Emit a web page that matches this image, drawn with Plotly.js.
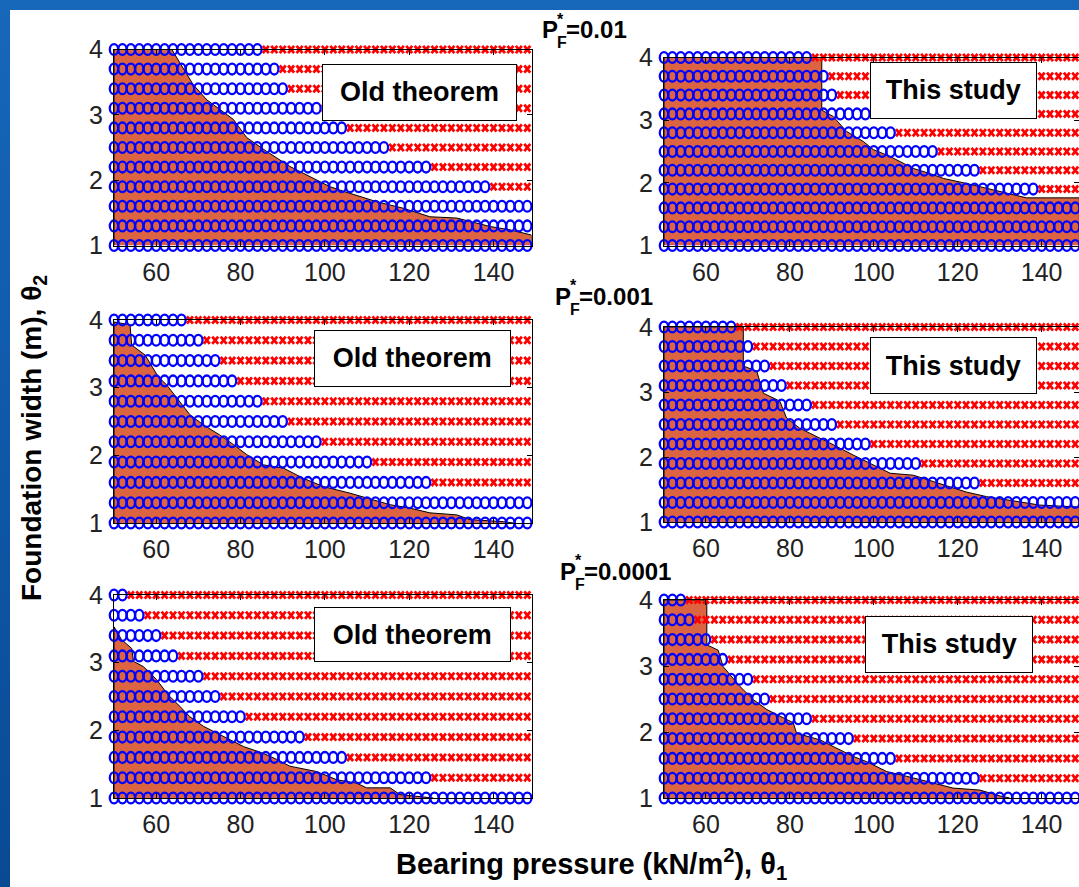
<!DOCTYPE html>
<html>
<head>
<meta charset="utf-8">
<script src="https://cdn.plot.ly/plotly-3.0.1.min.js"></script>
<style>
  html, body { margin: 0; padding: 0; width: 1079px; height: 887px; overflow: hidden; }
  body { background: linear-gradient(180deg, #1767bb 0%, #0e57a7 55%, #0a4a93 100%); }
  #sheet { position: absolute; left: 10px; top: 10px; width: 1080px; height: 877px; background: #fff; }
  #chart { width: 1080px; height: 877px; }
</style>
</head>
<body>
<div id="sheet"><div id="chart"></div></div>
<script>
// Bearing pressure grid (kN/m^2), theta_1
const pressure = [50, 52, 54, 56, 58, 60, 62, 64, 66, 68, 70, 72, 74, 76, 78, 80, 82, 84, 86, 88,
                  90, 92, 94, 96, 98, 100, 102, 104, 106, 108, 110, 112, 114, 116, 118, 120, 122, 124, 126, 128,
                  130, 132, 134, 136, 138, 140, 142, 144, 146, 148];
// Foundation width grid (m), theta_2
const widthRows = [1.0, 1.3, 1.6, 1.9, 2.2, 2.5, 2.8, 3.1, 3.4, 3.7, 4.0];

// Largest safe bearing pressure on each width row (circles up to it, crosses beyond)
const safeOld01   = [148, 148, 148, 138, 124, 114, 104, 98, 90, 88, 84];
const safeNew01   = [148, 148, 148, 138, 124, 114, 104, 98, 90, 88, 84];
const safeOld001  = [148, 148, 124, 110, 98, 90, 84, 78, 74, 70, 66];
const safeNew001  = [148, 148, 124, 110, 98, 90, 84, 78, 74, 70, 66];
const safeOld0001 = [148, 124, 104, 94, 80, 74, 70, 64, 60, 56, 52];
const safeNew0001 = [148, 124, 104, 94, 84, 74, 70, 64, 60, 56, 54];

// Predicted feasible region boundaries
const regionOld01X = [50, 50, 63.7, 66.4, 68.8, 72.0, 78.3, 81.5, 86.2, 91.7, 95.7, 101.2, 104.4, 112.3, 118.6, 124.9, 131.3, 139.2, 143.9, 149, 149];
const regionOld01Y = [1, 4, 4, 3.72, 3.46, 3.23, 2.93, 2.65, 2.44, 2.21, 2.08, 1.90, 1.83, 1.67, 1.57, 1.44, 1.42, 1.29, 1.24, 1.16, 1];
const regionNew01X = [50, 50, 87.6, 87.6, 90.3, 93.5, 97.5, 99.9, 103.9, 109.4, 114.2, 116.6, 122.1, 126.9, 130.1, 136.4, 149, 149];
const regionNew01Y = [1, 4, 4, 3.16, 3.06, 2.82, 2.66, 2.53, 2.42, 2.23, 2.13, 2.07, 1.99, 1.91, 1.86, 1.76, 1.76, 1];
const regionOld001X = [50, 50, 53.8, 54.2, 57.4, 60.5, 62.5, 65.7, 68.0, 71.2, 75.1, 78.3, 81.5, 85.4, 90.2, 94.9, 99.6, 106.0, 109.9, 115.5, 120.2, 124.9, 131.3, 134.4, 142.3, 144.7];
const regionOld001Y = [1, 3.97, 3.93, 3.63, 3.48, 3.16, 3.04, 2.79, 2.60, 2.45, 2.30, 2.16, 2.01, 1.86, 1.81, 1.66, 1.54, 1.44, 1.37, 1.27, 1.22, 1.15, 1.12, 1.05, 1.02, 1];
const regionNew001X = [50, 50, 68.9, 68.9, 72.1, 73.7, 77.6, 79.2, 82.4, 87.2, 90.3, 95.1, 99.9, 103.9, 109.4, 113.4, 122.1, 126.9, 139.6, 149, 149];
const regionNew001Y = [1, 4, 4, 3.40, 3.32, 2.98, 2.86, 2.60, 2.44, 2.29, 2.19, 2.03, 1.88, 1.75, 1.72, 1.64, 1.46, 1.39, 1.26, 1.23, 1];
const regionOld0001X = [50, 50, 51.8, 54.2, 54.6, 57.0, 60.1, 62.9, 64.9, 68.0, 71.2, 74.3, 77.5, 80.7, 85.4, 88.6, 91.7, 98.1, 102.8, 107.5, 109.9, 115.5, 117.8, 125.7];
const regionOld0001Y = [1, 3.53, 3.34, 3.21, 3.02, 2.94, 2.75, 2.52, 2.40, 2.20, 2.06, 1.96, 1.86, 1.76, 1.66, 1.57, 1.47, 1.39, 1.27, 1.22, 1.15, 1.15, 1.05, 1];
const regionNew0001X = [50, 50, 60.2, 60.2, 62.9, 64.1, 68.1, 71.3, 74.5, 77.6, 80.8, 81.6, 87.2, 90.3, 95.1, 98.3, 103.1, 107.8, 112.6, 118.9, 125.3, 130.1, 132.4];
const regionNew0001Y = [1, 4, 4, 3.32, 3.24, 2.99, 2.69, 2.49, 2.34, 2.24, 2.14, 1.98, 1.88, 1.78, 1.63, 1.55, 1.40, 1.33, 1.25, 1.15, 1.12, 1.03, 1];

const xTicks = [60, 80, 100, 120, 140];
const yTicks = [1, 2, 3, 4];
const panelTags = ['Old theorem', 'This study'];
const targetLevels = ['0.01', '0.001', '0.0001'];

// Sheet geometry (pixels inside the white sheet offset by 10,10 on the page)
const W = 1080, H = 877, OFF = 10;
const px = X => (X - OFF) / W;
const py = Y => 1 - (Y - OFF) / H;

const panels = [
  {lim: safeOld01,   rx: regionOld01X,   ry: regionOld01Y,   tag: 0, xs: [114, 531.5],  ys: [49.5, 245.5], box: [321.7, 64.3, 516.7, 121]},
  {lim: safeNew01,   rx: regionNew01X,   ry: regionNew01Y,   tag: 1, xs: [664, 1079.4], ys: [57.5, 245.5], box: [870, 62.3, 1036.7, 119]},
  {lim: safeOld001,  rx: regionOld001X,  ry: regionOld001Y,  tag: 0, xs: [114, 531.5],  ys: [320, 523],    box: [314, 330, 510.7, 386.7]},
  {lim: safeNew001,  rx: regionNew001X,  ry: regionNew001Y,  tag: 1, xs: [664, 1079.4], ys: [327, 522],    box: [870, 337.3, 1036.7, 394.3]},
  {lim: safeOld0001, rx: regionOld0001X, ry: regionOld0001Y, tag: 0, xs: [114, 531.5],  ys: [595, 798],    box: [314, 606.7, 510.7, 661.7]},
  {lim: safeNew0001, rx: regionNew0001X, ry: regionNew0001Y, tag: 1, xs: [664, 1079.4], ys: [600, 798],    box: [865, 616, 1033.3, 672.7]}
];

const SANS = 'Liberation Sans, Arial, sans-serif';
const tickFont = {family: SANS, size: 25, color: '#222'};
const traces = [];
const layout = {
  width: W, height: H,
  margin: {l: 0, r: 0, t: 0, b: 0},
  paper_bgcolor: '#ffffff', plot_bgcolor: 'rgba(0,0,0,0)',
  showlegend: false,
  annotations: []
};

panels.forEach((p, i) => {
  const n = i === 0 ? '' : String(i + 1);
  const xa = 'x' + n, ya = 'y' + n;

  traces.push({
    type: 'scatter', mode: 'lines', x: p.rx, y: p.ry, xaxis: xa, yaxis: ya,
    fill: 'toself', fillcolor: '#dc6440', line: {color: '#000', width: 1},
    hoverinfo: 'skip'
  });

  const cx = [], cy = [], fx = [], fy = [];
  widthRows.forEach((w, r) => {
    pressure.forEach(q => {
      if (q <= p.lim[r]) { cx.push(q); cy.push(w); } else { fx.push(q); fy.push(w); }
    });
  });
  traces.push({
    type: 'scatter', mode: 'markers', x: fx, y: fy, xaxis: xa, yaxis: ya, cliponaxis: false,
    marker: {symbol: 'x-thin-open', size: 7, color: '#ff0000', line: {width: 2.8, color: '#ff0000'}}, hoverinfo: 'skip'
  });
  traces.push({
    type: 'scatter', mode: 'markers', x: cx, y: cy, xaxis: xa, yaxis: ya, cliponaxis: false,
    marker: {symbol: 'circle-open', size: 8.5, color: '#0000ff', line: {width: 2.3, color: '#0000ff'}}, hoverinfo: 'skip'
  });

  layout['xaxis' + n] = {
    domain: [px(p.xs[0]), px(p.xs[1])], anchor: ya, range: [50, 149],
    tickvals: xTicks, ticks: 'inside', ticklen: 5, tickcolor: '#000',
    showline: true, linecolor: '#000', linewidth: 1, mirror: 'ticks',
    showgrid: false, zeroline: false, tickfont: tickFont, ticklabelstandoff: 4
  };
  layout['yaxis' + n] = {
    domain: [py(p.ys[1]), py(p.ys[0])], anchor: xa, range: [1, 4],
    tickvals: yTicks, ticks: 'inside', ticklen: 5, tickcolor: '#000',
    showline: true, linecolor: '#000', linewidth: 1, mirror: 'ticks',
    showgrid: false, zeroline: false, tickfont: tickFont, ticklabelstandoff: 5
  };

  const b = p.box;
  layout.annotations.push({
    xref: 'paper', yref: 'paper', x: px((b[0] + b[2]) / 2), y: py((b[1] + b[3]) / 2),
    xanchor: 'center', yanchor: 'middle', showarrow: false,
    text: panelTags[p.tag], width: b[2] - b[0] - 2, height: b[3] - b[1] - 2,
    bgcolor: '#fff', bordercolor: '#000', borderwidth: 1, borderpad: 0,
    font: {family: SANS, size: 27, color: '#000', weight: 'bold'}
  });
});

// Target probability headings: P with stacked * and F, then the value
const headFont = {family: SANS, size: 24, color: '#000', weight: 'bold'};
const smallFont = {family: SANS, size: 16, color: '#000', weight: 'bold'};
const headPos = [[540, 30], [553, 296], [558, 571]];
targetLevels.forEach((lv, k) => {
  const [x0, yc] = headPos[k];
  const A = (text, x, y, font) => layout.annotations.push({
    xref: 'paper', yref: 'paper', x: px(x), y: py(y), xanchor: 'left', yanchor: 'middle',
    showarrow: false, text: text, font: font
  });
  A('P', x0, yc, headFont);
  A('*', x0 + 15, yc - 11, smallFont);
  A('F', x0 + 15, yc + 13, smallFont);
  A('=' + lv, x0 + 24, yc, headFont);
});

// Shared axis titles
layout.annotations.push({
  xref: 'paper', yref: 'paper', x: px(591), y: py(864), xanchor: 'center', yanchor: 'middle',
  showarrow: false, text: 'Bearing pressure (kN/m<sup>2</sup>), θ<sub>1</sub>',
  font: {family: SANS, size: 29, color: '#000', weight: 'bold'}
});
layout.annotations.push({
  xref: 'paper', yref: 'paper', x: px(33), y: py(438), xanchor: 'center', yanchor: 'middle',
  showarrow: false, textangle: -90, text: 'Foundation width (m), θ<sub>2</sub>',
  font: {family: SANS, size: 28, color: '#000', weight: 'bold'}
});

// Marker outlines: slightly tall rings and crosses, keeping an even stroke width
const RING_RX = 4.2, RING_RY = 5.4;
const CROSS_AX = 3.0, CROSS_AY = 3.6;
const ringPath = `M${RING_RX},0A${RING_RX},${RING_RY} 0 1,1 0,-${RING_RY}A${RING_RX},${RING_RY} 0 0,1 ${RING_RX},0Z`;
const crossPath = `M${CROSS_AX},${CROSS_AY}L-${CROSS_AX},-${CROSS_AY}M${CROSS_AX},-${CROSS_AY}L-${CROSS_AX},${CROSS_AY}`;

Plotly.newPlot('chart', traces, layout, {staticPlot: true, displayModeBar: false}).then(gd => {
  gd.querySelectorAll('.scatterlayer path.point').forEach(el => {
    const d = el.getAttribute('d') || '';
    el.setAttribute('d', d.indexOf('A') >= 0 ? ringPath : crossPath);
  });
});
</script>
</body>
</html>
